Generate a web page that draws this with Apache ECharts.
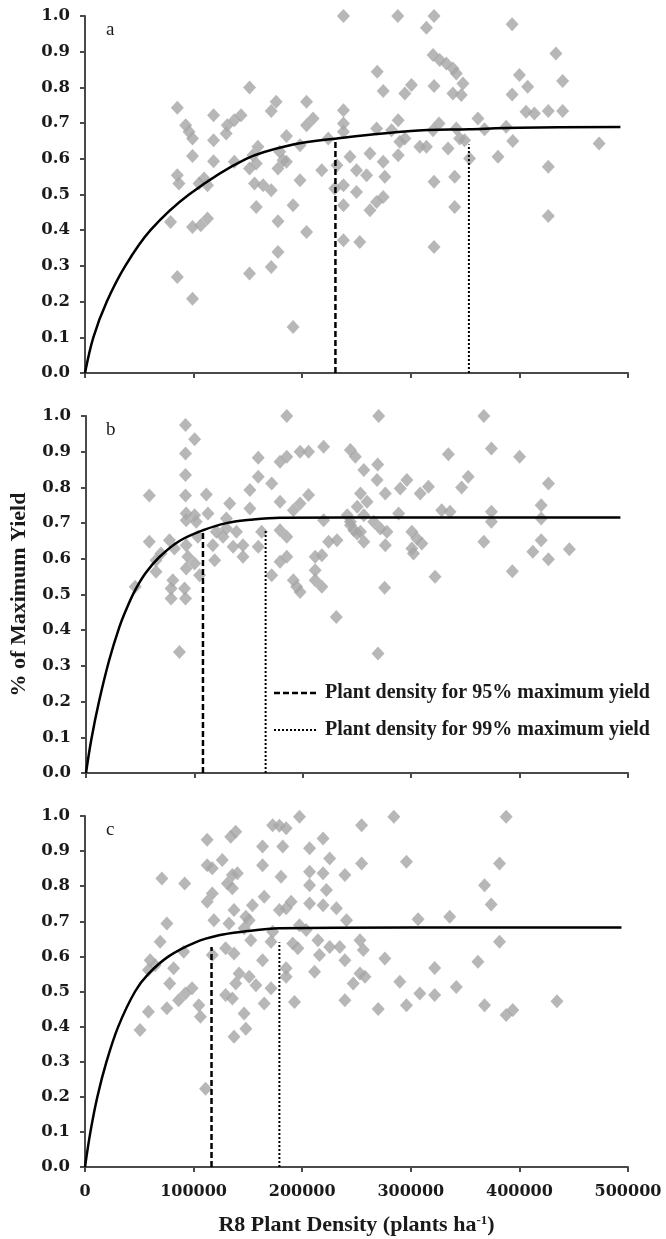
<!DOCTYPE html>
<html>
<head>
<meta charset="utf-8">
<script src="https://cdn.jsdelivr.net/npm/echarts@6/dist/echarts.min.js"></script>
<style>
html,body{margin:0;padding:0;background:#fff;}
#chart{width:666px;height:1239px;}
</style>
</head>
<body>
<div id="chart"></div>
<script>
// ---------- data ----------
const panelLetters = ['a', 'b', 'c'];
const legendLabels = ['Plant density for 95% maximum yield', 'Plant density for 99% maximum yield'];
const xTitle = 'R8 Plant Density (plants ha';
const yTitle = '% of Maximum Yield';

const pointsA = [
[238000,1.0],[151500,0.80],[85000,0.743],[176000,0.76],[171500,0.734],[204000,0.76],[210000,0.713],[204000,0.694],[118400,0.722],[143700,0.722],[137500,0.708],[131000,0.694],[130000,0.671],[92700,0.694],[95800,0.676],[99000,0.657],[118400,0.652],[185500,0.664],[198000,0.638],[224000,0.657],[238000,0.736],[238000,0.699],[238000,0.676],[99000,0.608],[118400,0.593],[137500,0.592],[154600,0.61],[159200,0.634],[151500,0.573],[157700,0.587],[179300,0.62],[182400,0.596],[177700,0.573],[185500,0.592],[232000,0.582],[244000,0.606],[218000,0.568],[250000,0.568],[85000,0.554],[86500,0.531],[105000,0.531],[109700,0.545],[112800,0.526],[156100,0.531],[164000,0.526],[171500,0.512],[198000,0.54],[230000,0.517],[238000,0.526],[250000,0.507],[157700,0.465],[191600,0.47],[238000,0.47],[78800,0.423],[99000,0.409],[106600,0.414],[112800,0.433],[177700,0.425],[204000,0.395],[238000,0.372],[253000,0.367],[177700,0.339],[171500,0.297],[151500,0.279],[85000,0.269],[99000,0.208],[191600,0.129],
[288000,1.0],[321400,1.0],[314400,0.967],[393300,0.977],[433600,0.895],[320500,0.891],[326600,0.877],[332700,0.867],[338800,0.853],[341900,0.839],[269100,0.844],[348000,0.811],[274600,0.79],[294500,0.783],[300600,0.807],[321400,0.804],[338800,0.783],[346500,0.779],[400000,0.835],[407600,0.802],[393300,0.78],[439800,0.818],[406100,0.732],[413800,0.727],[426600,0.734],[439800,0.734],[361800,0.713],[288400,0.708],[326000,0.699],[268500,0.685],[282300,0.68],[320500,0.68],[341900,0.685],[367900,0.683],[387800,0.69],[289900,0.648],[294500,0.657],[308300,0.634],[314400,0.634],[334300,0.629],[345000,0.657],[349500,0.652],[393900,0.65],[473400,0.643],[262400,0.615],[288400,0.61],[354100,0.601],[380300,0.606],[274600,0.592],[259300,0.554],[276100,0.55],[321400,0.536],[340400,0.55],[426600,0.578],[274600,0.493],[268500,0.479],[262400,0.456],[340400,0.465],[426600,0.44],[321400,0.353]
];

const pointsB = [
[185200,1.0],[91800,0.975],[100200,0.935],[91800,0.895],[219200,0.914],[197500,0.90],[205300,0.90],[185200,0.886],[179000,0.872],[158900,0.883],[243900,0.905],[248500,0.886],[91800,0.835],[158900,0.83],[171300,0.811],[151200,0.793],[58400,0.777],[91800,0.777],[111000,0.78],[179000,0.76],[205300,0.779],[197500,0.755],[191300,0.736],[132600,0.755],[151200,0.741],[92400,0.727],[100200,0.722],[112500,0.727],[92400,0.708],[101700,0.704],[129500,0.713],[219200,0.708],[243900,0.704],[129500,0.685],[120200,0.676],[138800,0.676],[126400,0.662],[162000,0.676],[179000,0.68],[185200,0.662],[250100,0.671],[58400,0.648],[77000,0.652],[92400,0.638],[103200,0.662],[117000,0.638],[135700,0.634],[144800,0.638],[158900,0.634],[223800,0.648],[231500,0.652],[69200,0.615],[64600,0.596],[81600,0.629],[94000,0.606],[118700,0.596],[144800,0.606],[185200,0.606],[179000,0.592],[211400,0.606],[217600,0.61],[64600,0.564],[92400,0.573],[100200,0.587],[104800,0.554],[171300,0.554],[191300,0.54],[211400,0.568],[80100,0.54],[78500,0.517],[90900,0.517],[197500,0.507],[194400,0.522],[217600,0.522],[211400,0.54],[45400,0.522],[78500,0.489],[91800,0.489],[230900,0.437],[86200,0.339],
[270000,1.0],[367000,1.0],[374000,0.909],[400000,0.886],[334300,0.893],[269100,0.864],[256300,0.849],[352600,0.83],[346500,0.80],[426600,0.811],[268500,0.821],[296000,0.821],[276100,0.783],[289900,0.797],[308300,0.783],[315900,0.802],[253200,0.783],[259300,0.76],[419900,0.75],[374000,0.732],[328100,0.736],[335800,0.732],[250200,0.746],[288400,0.727],[241000,0.722],[256300,0.722],[374000,0.704],[419900,0.713],[244000,0.694],[265400,0.704],[271500,0.685],[253200,0.676],[277600,0.676],[300600,0.676],[247100,0.68],[305200,0.657],[309800,0.643],[256300,0.648],[276100,0.638],[367000,0.648],[419900,0.652],[445900,0.627],[412200,0.62],[426600,0.599],[300600,0.629],[302100,0.615],[322000,0.55],[393300,0.565],[275500,0.519],[269400,0.335]
];

const pointsC = [
[197500,0.998],[172800,0.974],[179000,0.972],[185200,0.965],[134200,0.941],[138800,0.955],[112500,0.932],[163500,0.913],[182100,0.913],[206800,0.908],[219200,0.936],[112500,0.86],[117200,0.851],[126400,0.875],[163500,0.86],[225300,0.879],[135700,0.832],[140300,0.837],[180500,0.827],[206800,0.841],[219200,0.837],[239300,0.832],[70800,0.822],[91800,0.808],[131100,0.808],[135700,0.794],[206800,0.803],[222300,0.789],[117200,0.779],[112500,0.756],[165000,0.77],[189800,0.756],[185200,0.737],[179000,0.732],[206800,0.751],[219200,0.746],[231500,0.737],[154200,0.746],[137200,0.732],[148100,0.713],[118700,0.703],[75400,0.694],[132600,0.694],[151200,0.703],[146500,0.68],[197500,0.689],[203700,0.675],[240800,0.703],[152700,0.646],[172800,0.67],[171300,0.642],[191300,0.637],[196000,0.623],[214500,0.646],[225300,0.627],[234600,0.627],[69200,0.642],[90900,0.613],[117200,0.604],[129500,0.623],[137200,0.608],[215900,0.604],[239300,0.589],[60000,0.589],[64600,0.575],[81600,0.566],[58400,0.561],[163500,0.589],[185200,0.566],[185200,0.542],[211400,0.556],[141900,0.551],[151200,0.542],[78000,0.523],[138800,0.523],[157400,0.518],[247000,0.523],[98600,0.509],[92400,0.494],[86200,0.475],[171300,0.509],[129500,0.49],[135700,0.48],[192900,0.47],[165000,0.466],[239300,0.475],[75400,0.452],[58400,0.442],[104800,0.461],[106300,0.428],[146500,0.437],[50700,0.39],[137200,0.371],[148100,0.394],[111000,0.223],
[284400,0.998],[254700,0.974],[387800,0.998],[254700,0.865],[296000,0.87],[381700,0.865],[367900,0.803],[374000,0.748],[306700,0.706],[335800,0.713],[381700,0.642],[253200,0.646],[256300,0.618],[276100,0.594],[322000,0.567],[361800,0.585],[253200,0.551],[257800,0.542],[289900,0.528],[341900,0.513],[308300,0.494],[322000,0.49],[270000,0.45],[296000,0.461],[367900,0.461],[387800,0.433],[393900,0.447],[434600,0.472]
];

const curveA = [[0,0],[7700,0.1],[20100,0.2],[37100,0.3],[60300,0.4],[95800,0.5],[148400,0.6],[191600,0.64],[232000,0.657],[300000,0.678],[354000,0.683],[400000,0.687],[493000,0.689]];
const curveB = [[0,0],[5000,0.095],[12000,0.2],[21300,0.315],[30600,0.407],[37000,0.457],[45000,0.51],[55000,0.56],[67700,0.605],[86200,0.65],[107900,0.68],[129500,0.70],[154200,0.71],[179000,0.715],[300000,0.716],[493000,0.716]];
const curveC = [[0,0],[5000,0.1],[11400,0.2],[19800,0.3],[30600,0.4],[46100,0.5],[58400,0.55],[77000,0.6],[101700,0.64],[123300,0.66],[144800,0.67],[178800,0.68],[300000,0.682],[494000,0.682]];

const dens95 = [230600, 107900, 116500];
const top95 = [0.655, 0.678, 0.627];
const dens99 = [353500, 165700, 179000];
const top99 = [0.64, 0.68, 0.64];

const xMin = 0, xMax = 500000, xStep = 100000;
const yMin = 0, yMax = 1, yStep = 0.1;

// ---------- chart ----------
const FONT = "'Liberation Serif', 'Times New Roman', serif";
const TICKFONT = "'DejaVu Serif', serif";
const grids = [
  {left: 85, width: 543, top: 16, height: 357},
  {left: 85, width: 543, top: 416, height: 357},
  {left: 85, width: 543, top: 816, height: 351}
];
const axisLineStyle = {color: '#4a4a4a', width: 2};
const xAxes = grids.map((g, i) => ({
  type: 'value', gridIndex: i, min: xMin, max: xMax, interval: xStep,
  splitLine: {show: false},
  axisLine: {show: true, onZero: false, lineStyle: axisLineStyle},
  axisTick: {show: true, length: 5, lineStyle: axisLineStyle},
  axisLabel: {show: i === 2, margin: 17, fontFamily: TICKFONT, fontWeight: 'bold', fontSize: 16, color: '#1a1a1a',
    formatter: v => String(v)},
  name: i === 2 ? xTitle + '{sup|-1})' : '',
  nameLocation: 'middle', nameGap: 47,
  nameTextStyle: {fontFamily: FONT, fontWeight: 'bold', fontSize: 22, color: '#1a1a1a',
    rich: {sup: {fontFamily: FONT, fontWeight: 'bold', fontSize: 13, color: '#1a1a1a', verticalAlign: 'top', padding: [0,0,9,0]}}}
}));
const yAxes = grids.map((g, i) => ({
  type: 'value', gridIndex: i, min: yMin, max: yMax, interval: yStep,
  splitLine: {show: false},
  axisLine: {show: true, lineStyle: axisLineStyle},
  axisTick: {show: true, length: 5, lineStyle: axisLineStyle},
  axisLabel: {margin: 15, fontFamily: TICKFONT, fontWeight: 'bold', fontSize: 16.5, color: '#1a1a1a',
    formatter: v => v.toFixed(1)},
  name: i === 1 ? yTitle : '',
  nameLocation: 'middle', nameGap: 56, nameRotate: 90,
  nameTextStyle: {fontFamily: FONT, fontWeight: 'bold', fontSize: 22, color: '#1a1a1a'}
}));

const pts = [pointsA, pointsB, pointsC];
const curves = [curveA, curveB, curveC];
const series = [];
for (let i = 0; i < 3; i++) {
  series.push({
    type: 'scatter', xAxisIndex: i, yAxisIndex: i, data: pts[i],
    symbol: 'diamond', symbolSize: [13, 14],
    itemStyle: {color: '#a5a5a5'}, z: 2, silent: true
  });
  series.push({
    type: 'line', xAxisIndex: i, yAxisIndex: i, data: curves[i],
    smooth: 0.35, showSymbol: false, symbol: 'none',
    lineStyle: {color: '#000', width: 2.5}, z: 4, silent: true
  });
  series.push({
    type: 'line', xAxisIndex: i, yAxisIndex: i,
    data: [[dens95[i], 0], [dens95[i], top95[i]]],
    showSymbol: false, symbol: 'none',
    lineStyle: {color: '#000', width: 2.5, type: [6, 3]}, z: 5, silent: true
  });
  series.push({
    type: 'line', xAxisIndex: i, yAxisIndex: i,
    data: [[dens99[i], 0], [dens99[i], top99[i]]],
    showSymbol: false, symbol: 'none',
    lineStyle: {color: '#000', width: 2, type: [2, 2]}, z: 5, silent: true
  });
}

const letterPos = [[106, 32], [106, 432], [106, 832]];
const graphic = [];
panelLetters.forEach((t, i) => {
  graphic.push({type: 'text', left: letterPos[i][0], top: letterPos[i][1] - 11,
    style: {text: t, font: "19px " + FONT, fill: '#1a1a1a'}});
});
// legend
graphic.push({type: 'line', shape: {x1: 274, y1: 693, x2: 318, y2: 693},
  style: {stroke: '#000', lineWidth: 2.5, lineDash: [6, 3]}});
graphic.push({type: 'text', x: 325, y: 693,
  style: {text: legendLabels[0], font: "bold 20px " + FONT, fill: '#1a1a1a', verticalAlign: 'middle'}});
graphic.push({type: 'line', shape: {x1: 274, y1: 730, x2: 318, y2: 730},
  style: {stroke: '#000', lineWidth: 2, lineDash: [2, 2]}});
graphic.push({type: 'text', x: 325, y: 730,
  style: {text: legendLabels[1], font: "bold 20px " + FONT, fill: '#1a1a1a', verticalAlign: 'middle'}});

const chart = echarts.init(document.getElementById('chart'), null, {renderer: 'canvas'});
chart.setOption({
  animation: false,
  backgroundColor: '#fff',
  grid: grids,
  xAxis: xAxes,
  yAxis: yAxes,
  series: series,
  graphic: graphic
});
</script>
</body>
</html>
